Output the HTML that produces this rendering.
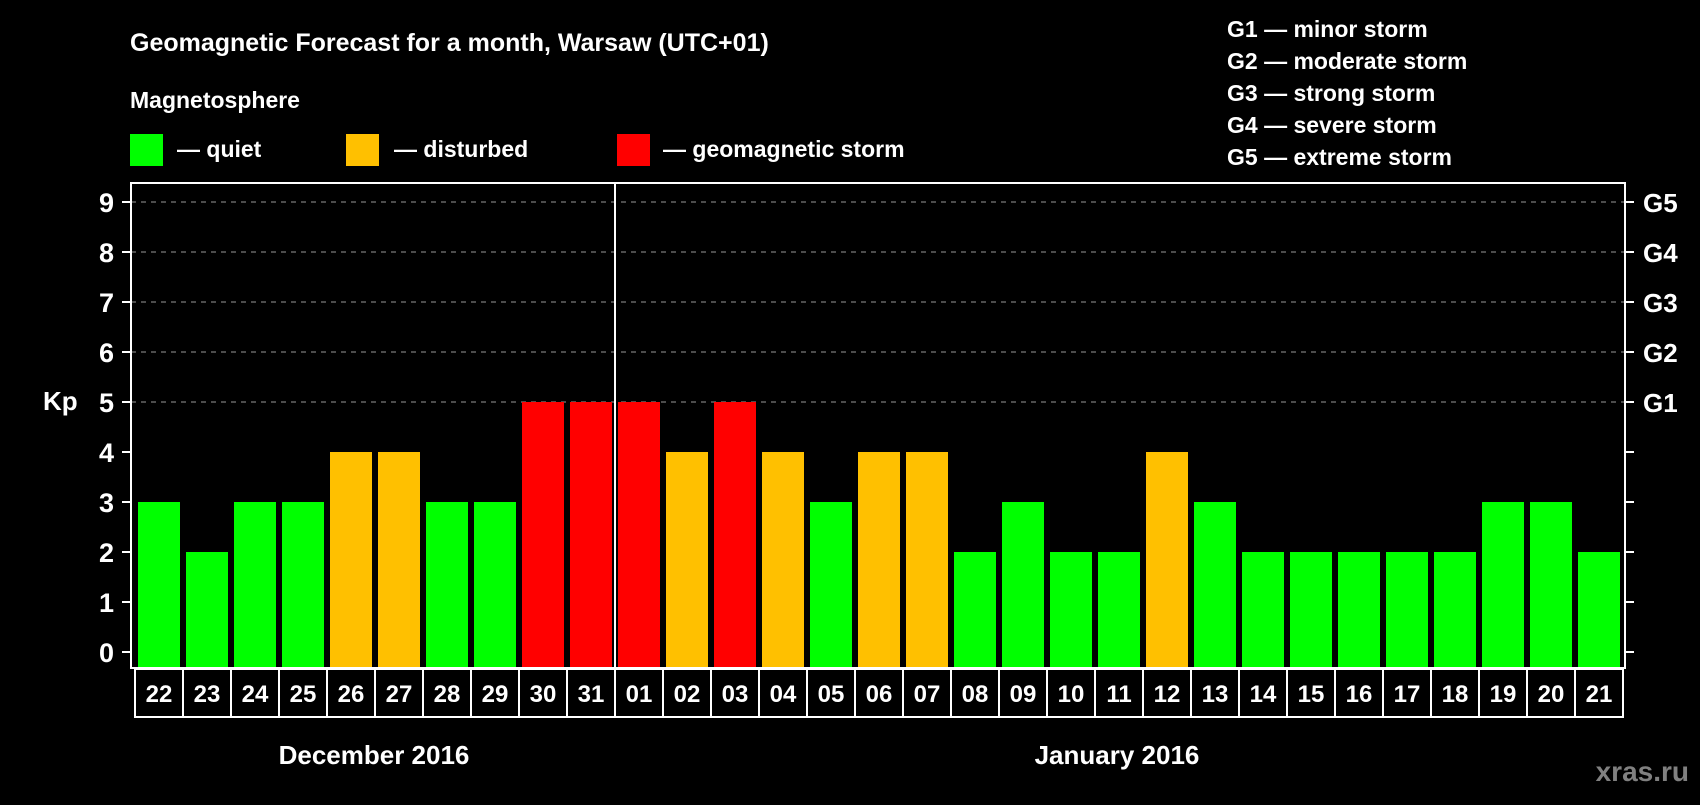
<!DOCTYPE html>
<html><head><meta charset="utf-8"><style>
body{margin:0;background:#000;width:1700px;height:800px;overflow:hidden}
svg text{font-family:"Liberation Sans",Arial,sans-serif;font-weight:bold;fill:#fff}
</style></head><body>
<svg id="c" width="1700" height="800">
<text x="130" y="51" font-size="25">Geomagnetic Forecast for a month, Warsaw (UTC+01)</text>
<text x="130" y="108" font-size="23">Magnetosphere</text>
<rect x="130" y="134" width="33" height="32" fill="#00ff00"/>
<text x="177" y="157" font-size="23">— quiet</text>
<rect x="346" y="134" width="33" height="32" fill="#ffc000"/>
<text x="394" y="157" font-size="23">— disturbed</text>
<rect x="617" y="134" width="33" height="32" fill="#ff0000"/>
<text x="663" y="157" font-size="23">— geomagnetic storm</text>
<g font-size="23">
<text x="1227" y="37" font-size="23">G1 — minor storm</text>
<text x="1227" y="69" font-size="23">G2 — moderate storm</text>
<text x="1227" y="101" font-size="23">G3 — strong storm</text>
<text x="1227" y="133" font-size="23">G4 — severe storm</text>
<text x="1227" y="165" font-size="23">G5 — extreme storm</text>
</g>
<text x="43" y="410" font-size="26">Kp</text>
<text x="374" y="764" font-size="26" text-anchor="middle">December 2016</text>
<text x="1117" y="764" font-size="26" text-anchor="middle">January 2016</text>
<text x="1689" y="781" font-size="28" text-anchor="end" style="fill:#808080">xras.ru</text>
<g id="plot"></g>
</svg>
<script>
const days=["22","23","24","25","26","27","28","29","30","31","01","02","03","04","05","06","07","08","09","10","11","12","13","14","15","16","17","18","19","20","21"];
const kp=[3,2,3,3,4,4,3,3,5,5,5,4,5,4,3,4,4,2,3,2,2,4,3,2,2,2,2,2,3,3,2];
const yTicks=[0,1,2,3,4,5,6,7,8,9];
const gLabels=["G1","G2","G3","G4","G5"];
const NS="http://www.w3.org/2000/svg";
const g=document.getElementById('plot');
const L=131,T=183,R=1625,B=668,X0=138,STEP=48,BW=42;
function y(v){return 652-v*50;}
function x(i){return X0+i*STEP;}
function mk(t,a){const e=document.createElementNS(NS,t);for(const k in a)e.setAttribute(k,a[k]);g.appendChild(e);return e;}
yTicks.forEach(v=>{
 if(v>=5){const l=mk('line',{x1:L,x2:R,y1:y(v),y2:y(v),stroke:'#999','stroke-width':1,'stroke-dasharray':'5,5'});
 
 }
 const t1=mk('line',{x1:122,x2:L,y1:y(v),y2:y(v),stroke:'#fff','stroke-width':2});
 
 
 const t2=mk('line',{x1:R,x2:1634,y1:y(v),y2:y(v),stroke:'#fff','stroke-width':2});
 
 
 const tx=mk('text',{x:114,y:y(v)+10,'font-size':27,'text-anchor':'end'});tx.textContent=v;
 
 
});
gLabels.forEach((s,i)=>{
 const tx=mk('text',{x:1643,y:y(5+i)+10,'font-size':26});tx.textContent=s;
 
 
});
kp.forEach((v,i)=>{
 const c=v>=5?'#ff0000':v>=4?'#ffc000':'#00ff00';
 const r=mk('rect',{x:x(i),y:y(v),width:BW,height:B-y(v)-1,fill:c});
 
 
 const bx=mk('rect',{x:x(i)-3,y:B+1,width:STEP,height:48,fill:'none',stroke:'#fff','stroke-width':2});
 
 
 const tx=mk('text',{x:x(i)-3+STEP/2,y:B+34,'font-size':24,'text-anchor':'middle'});tx.textContent=days[i];
 
 
});
const fr=mk('rect',{x:L,y:T,width:R-L,height:B-T,fill:'none',stroke:'#fff','stroke-width':2});


const sep=mk('line',{x1:x(10)-3,x2:x(10)-3,y1:T,y2:B,stroke:'#fff','stroke-width':2});


</script>
</body></html>
